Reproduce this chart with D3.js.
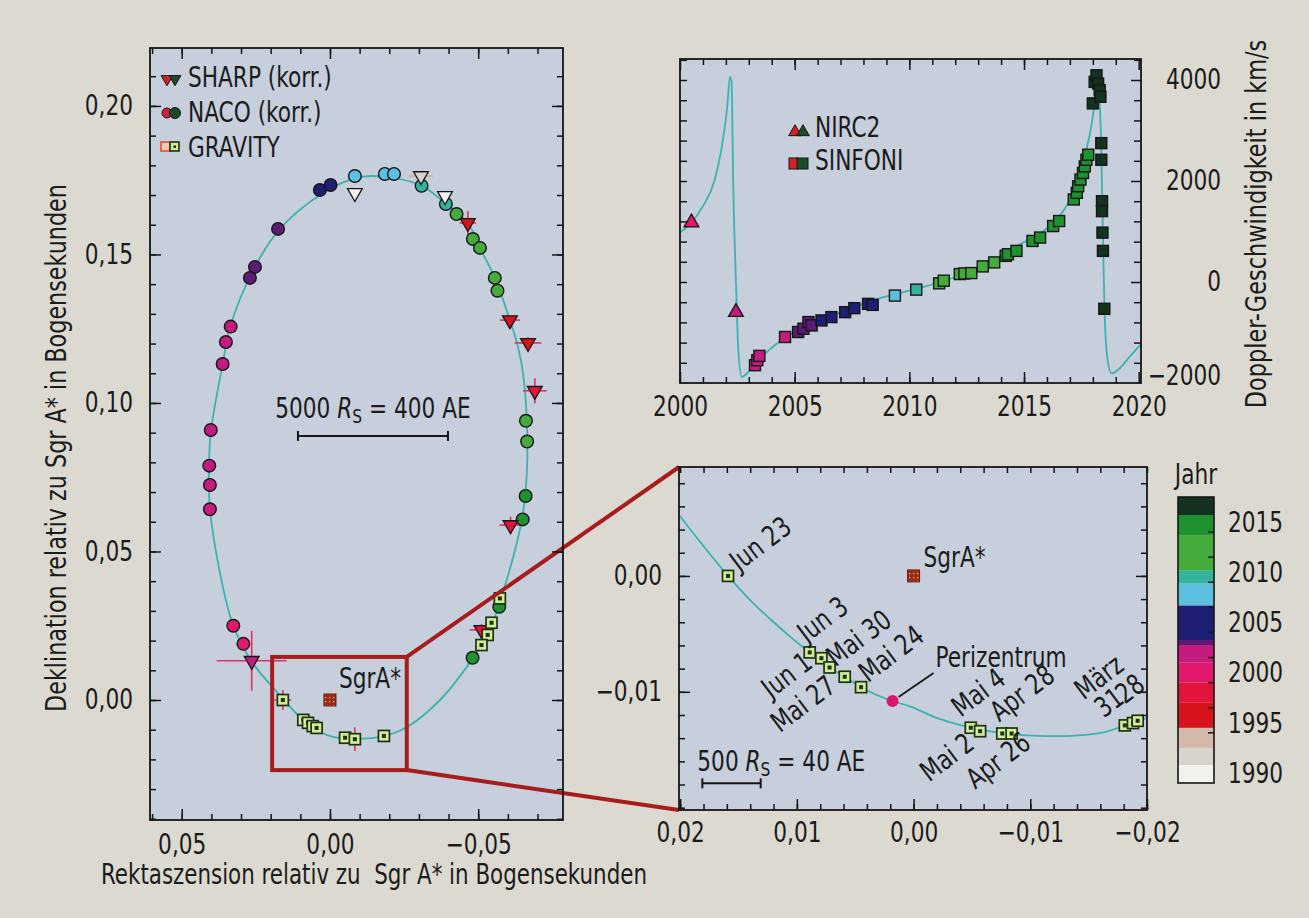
<!DOCTYPE html>
<html>
<head>
<meta charset="utf-8">
<title>S2 um Sgr A*</title>
<script src="https://cdn.jsdelivr.net/npm/d3@7/dist/d3.min.js"></script>
<style>
  body { margin: 0; background: #dcdad0; }
  svg { display: block; }
  text { font-family: 'Liberation Sans Narrow', 'DejaVu Sans Condensed', 'Arial Narrow', sans-serif; fill: #1b1b1b; }
</style>
</head>
<body>
<svg id="chart" width="1309" height="918"></svg>
<script>
// ---------- data ----------
// orbit of S2 on the sky (arcsec), left panel
const orbitRa  = [-0.0145, -0.0303, -0.0388, -0.0465, -0.0506, -0.0556, -0.0607, -0.0634, -0.0651, -0.0664, -0.0664, -0.0647, -0.0583, -0.0539, -0.0482, -0.0371, -0.0260, -0.0185, -0.0078, 0.0010, 0.0091, 0.0185, 0.0263, 0.0327, 0.0371, 0.0405, 0.0408, 0.0401, 0.0361, 0.0337, 0.0253, 0.0169, 0.0034, -0.0067];
const orbitDec = [0.1764, 0.1734, 0.1673, 0.1606, 0.1522, 0.1421, 0.1279, 0.1189, 0.1101, 0.0943, 0.0764, 0.0606, 0.0360, 0.0236, 0.0141, 0.0000, -0.0091, -0.0121, -0.0131, -0.0118, -0.0067, 0.0034, 0.0128, 0.0253, 0.0428, 0.0646, 0.0791, 0.0909, 0.1135, 0.1256, 0.1458, 0.1586, 0.1700, 0.1751];

// orbit close to the pericentre, zoom panel
const zoomOrbitRa  = [0.0202, 0.0181, 0.0159, 0.0139, 0.0122, 0.0105, 0.0089, 0.0072, 0.0059, 0.0045, 0.0031, 0.0018, 0.0002, -0.0021, -0.0049, -0.0078, -0.0106, -0.0135, -0.0163, -0.0181, -0.0199];
const zoomOrbitDec = [0.0054, 0.0027, 0.0000, -0.0022, -0.0038, -0.0053, -0.0066, -0.0079, -0.0087, -0.0096, -0.0103, -0.0108, -0.0113, -0.0123, -0.0131, -0.0136, -0.0138, -0.0138, -0.0135, -0.0129, -0.0123];

// NACO (korr.)
const nacoRa   = [0.0034, -0.0002, -0.0084, -0.0185, -0.0216, -0.0309, -0.0391, -0.0427, -0.0482, -0.0506, -0.0556, -0.0565, -0.0661, -0.0665, -0.0660, -0.0650, -0.0571, -0.0481, 0.0175, 0.0253, 0.0270, 0.0335, 0.0351, 0.0362, 0.0402, 0.0407, 0.0405, 0.0405, 0.0326, 0.0292];
const nacoDec  = [0.1717, 0.1734, 0.1764, 0.1771, 0.1771, 0.1731, 0.1670, 0.1636, 0.1552, 0.1522, 0.1421, 0.1378, 0.0940, 0.0870, 0.0687, 0.0608, 0.0314, 0.0142, 0.1586, 0.1458, 0.1421, 0.1257, 0.1205, 0.1131, 0.0909, 0.0789, 0.0724, 0.0642, 0.0250, 0.0189];
const nacoYear = [2006.2, 2006.6, 2009.2, 2009.5, 2009.7, 2010.3, 2010.5, 2010.9, 2011.2, 2011.5, 2012.0, 2012.3, 2013.2, 2013.5, 2014.3, 2014.6, 2016.5, 2017.2, 2005.0, 2005.2, 2005.4, 2004.0, 2003.8, 2003.5, 2003.2, 2003.0, 2002.9, 2002.8, 2000.5, 2000.2];

// SHARP (korr.)
const sharpRa     = [-0.0084, -0.0307, -0.0388, -0.0465, -0.0607, -0.0668, -0.0691, -0.0609, -0.0511, 0.0264];
const sharpDec    = [0.1707, 0.1764, 0.1697, 0.1606, 0.1279, 0.1202, 0.1041, 0.0589, 0.0236, 0.0132];
const sharpYear   = [1990.5, 1992.0, 1990.5, 1995.0, 1995.5, 1996.0, 1997.5, 1998.0, 1998.5, 2002.0];
const sharpErrRa  = [0, 0.0040, 0, 0.0028, 0.0034, 0.0045, 0.0040, 0.0037, 0.0040, 0.0118];
const sharpErrDec = [0, 0, 0, 0.0040, 0, 0.0020, 0.0042, 0.0028, 0.0020, 0.0101];

// GRAVITY, left panel
const gravRa     = [-0.0573, -0.0545, -0.0532, -0.0511, 0.0159, 0.0090, 0.0074, 0.0058, 0.0045, -0.0051, -0.0084, -0.0182];
const gravDec    = [0.0342, 0.0260, 0.0219, 0.0185, 0.0000, -0.0067, -0.0077, -0.0088, -0.0094, -0.0127, -0.0132, -0.0121];
const gravErrRa  = [0, 0, 0, 0, 0.0028, 0, 0, 0, 0, 0, 0, 0];
const gravErrDec = [0, 0, 0, 0, 0.0034, 0, 0, 0, 0, 0, 0.0040, 0];

// GRAVITY 2018, zoom panel
const zoomDates = ["Jun 23", "Jun 3", "Jun 1", "Mai 30", "Mai 27", "Mai 24", "Mai 4", "Mai 2", "Apr 28", "Apr 26", "31", "", "28"];
const zoomSide  = ["above", "above", "below", "above", "below", "above", "above", "below", "above", "below", "above", "above", "above"];
const zoomRa    = [0.0159, 0.0089, 0.0079, 0.0072, 0.0059, 0.0045, -0.0049, -0.0057, -0.0076, -0.0084, -0.0181, -0.0188, -0.0192];
const zoomDec   = [0.0000, -0.0066, -0.0071, -0.0079, -0.0087, -0.0096, -0.0131, -0.0134, -0.0136, -0.0136, -0.0129, -0.0127, -0.0125];
const pericentreRa = 0.0018, pericentreDec = -0.0108;

// Doppler velocity: model curve (year, km/s)
const rvYear = [2000.0, 2000.5, 2001.0, 2001.5, 2001.8, 2002.06, 2002.18, 2002.25, 2002.32, 2002.44, 2002.54, 2002.69, 2003.05, 2003.49, 2004.5, 2005.96, 2007.4, 2008.86, 2010.3, 2011.76, 2013.2, 2014.7, 2016.1, 2017.0, 2017.57, 2018.0, 2018.16, 2018.23, 2018.30, 2018.37, 2018.44, 2018.51, 2018.62, 2018.81, 2019.17, 2019.6, 2020.09];
const rvVel  = [980, 1175, 1502, 2000, 2618, 3470, 4061, 3963, 1962, -6, -1319, -1876, -1746, -1516, -1122, -793, -531, -301, -138, 59, 321, 715, 1108, 1634, 2356, 3274, 3864, 4150, 3600, 2600, 900, -550, -1450, -1811, -1713, -1482, -1240];

// NIRC2 and SINFONI measurements
const nircYear = [2000.5, 2002.44];
const nircVel  = [1175, -597];
const sinfoniYear = [2003.27, 2003.37, 2003.46, 2004.58, 2005.15, 2005.38, 2005.60, 2005.74, 2006.17, 2006.60, 2007.20, 2007.60, 2008.20, 2008.40, 2009.37, 2010.30, 2011.30, 2011.50, 2012.20, 2012.40, 2012.70, 2013.20, 2013.70, 2014.20, 2014.30, 2014.67, 2015.37, 2015.70, 2016.27, 2016.53, 2017.17, 2017.30, 2017.36, 2017.46, 2017.57, 2017.65, 2017.72, 2017.80, 2018.00, 2018.08, 2018.16, 2018.23, 2018.30, 2018.33, 2018.37, 2018.37, 2018.40, 2018.40, 2018.42, 2018.44, 2018.50];
const sinfoniVel  = [-1647, -1549, -1463, -1089, -990, -925, -793, -860, -761, -695, -597, -518, -433, -453, -269, -151, -26, 26, 157, 170, 177, 309, 388, 518, 550, 616, 813, 880, 1108, 1207, 1634, 1766, 1896, 2028, 2159, 2289, 2421, 2520, 3537, 3963, 4094, 3931, 3799, 3668, 2750, 2421, 1600, 1404, 978, 616, -531];

// year colours
const yearBreaks  = [1990.8, 1992.5, 1994.5, 1997.0, 1999.0, 2001.0, 2004.7, 2005.9, 2009.0, 2010.0, 2010.8, 2014.0, 2017.9];
const yearColours = ["#f3f1ec", "#d9d3ce", "#d4b8aa", "#d7141d", "#e2163c", "#e0196c", "#c41c7e", "#5c1c74", "#1d1e74", "#5cbfdd", "#33b39c", "#45ac3c", "#1f9230", "#13321f"];
const colorbarEdges = [1989, 1990.8, 1992.5, 1994.5, 1997.0, 1999.0, 2001.0, 2002.75, 2003.25, 2006.7, 2008.9, 2010.2, 2013.7, 2015.7, 2017.5];
const colorbarLabels = [1990, 1995, 2000, 2005, 2010, 2015];
const colorbarTicks = [1994, 1996.5, 1999, 2001.5, 2004, 2006.5, 2009, 2011.5, 2014];

// tick labels
const mainRaLabels  = [0.05, 0.00, -0.05];
const mainDecLabels = [0.00, 0.05, 0.10, 0.15, 0.20];
const velYearLabels = [2000, 2005, 2010, 2015, 2020];
const velLabels     = [4000, 2000, 0, -2000];
const zoomRaLabels  = [0.02, 0.01, 0.00, -0.01, -0.02];
const zoomDecLabels = [0.00, -0.01];

// scale bars and zoom box (arcsec)
const mainBarRa = [0.0108, -0.0398], mainBarDec = 0.0889;
const zoomBarRa = [0.0181, 0.0131], zoomBarDec = -0.0179;
const zoomBoxRa = [0.0195, -0.0259], zoomBoxDec = [-0.0236, 0.0145];

// ---------- drawing ----------
const svg = d3.select("#chart");
const defs = svg.append("defs");
const ink = "#161616";
const panelFill = "#c6cfdb";
const orbitStroke = "#3db3ad";
const boxRed = "#a71c1c";
const errPink = "#e0306a";
const squeeze = 0.86;   // the print uses a condensed face

// where the date labels sit next to their square (px)
const dateLabelShift = {
  "Jun 23": [11, -4], "Jun 3": [-3, -9], "Jun 1": [-7, 8], "Mai 30": [6, 0], "Mai 27": [-7, 13],
  "Mai 24": [7, -4], "Mai 4": [-10, -10], "Mai 2": [-4, 16], "Apr 28": [-3, -11], "Apr 26": [21, 13],
  "31": [-21, -7], "28": [-13, -16]
};

const colorOf = d3.scaleThreshold().domain(yearBreaks).range(yearColours);

function commaFmt(d) {
  const s = d3.format(".2f")(Math.abs(d) < 1e-9 ? 0 : d);
  return s.replace(".", ",").replace("-", "–");
}

const xMain = d3.scaleLinear().domain([0.0607, -0.0786]).range([150, 563]);
const yMain = d3.scaleLinear().domain([-0.0404, 0.2195]).range([820, 48]);
const xVel = d3.scaleLinear().domain([2000, 2020.1]).range([680, 1141]);
const yVel = d3.scaleLinear().domain([-2000, 4416]).range([383, 59]);
const xZoom = d3.scaleLinear().domain([0.0201, -0.0200]).range([679, 1147]);
const yZoom = d3.scaleLinear().domain([-0.0202, 0.0094]).range([810, 467]);
const yBar = d3.scaleLinear().domain([1989, 2017.5]).range([783, 497]);

function box(x, y) {
  const [xa, xb] = x.range(), [ya, yb] = y.range();
  return { x: xa, y: yb, w: xb - xa, h: ya - yb };
}

function panel(id, x, y) {
  const b = box(x, y);
  svg.append("rect").attr("x", b.x).attr("y", b.y).attr("width", b.w).attr("height", b.h).attr("fill", panelFill);
  defs.append("clipPath").attr("id", id).append("rect")
    .attr("x", b.x).attr("y", b.y).attr("width", b.w).attr("height", b.h);
}

function border(x, y) {
  const b = box(x, y);
  svg.append("rect").attr("x", b.x).attr("y", b.y).attr("width", b.w).attr("height", b.h)
    .attr("fill", "none").attr("stroke", ink).attr("stroke-width", 1.8);
}

function tickSet(axisFn, scale, at, values, len, fmt, pad) {
  const ax = axisFn(scale).tickValues(values).tickSize(-len).tickSizeOuter(0)
    .tickPadding(pad || 0).tickFormat(fmt || (() => ""));
  const g = svg.append("g").attr("transform", at).call(ax);
  g.attr("font-size", 28);
  g.select(".domain").remove();
  g.selectAll("line").attr("stroke", ink).attr("stroke-width", 1.5);
  return g;
}

const onStep = (v, step) => Math.abs(v / step - Math.round(v / step)) < 1e-6;

panel("clipMain", xMain, yMain);
panel("clipVel", xVel, yVel);
panel("clipZoom", xZoom, yZoom);

// --- left panel: orbit
const gMain = svg.append("g").attr("clip-path", "url(#clipMain)");
gMain.append("path")
  .attr("d", d3.line().curve(d3.curveCatmullRomClosed.alpha(0.5))(orbitRa.map((r, i) => [xMain(r), yMain(orbitDec[i])])))
  .attr("fill", "none").attr("stroke", orbitStroke).attr("stroke-width", 1.8);

// scale bar
function scaleBar(g, x, y, ra, dec) {
  const x0 = x(ra[0]), x1 = x(ra[1]), yy = y(dec);
  g.append("line").attr("x1", x0).attr("x2", x1).attr("y1", yy).attr("y2", yy).attr("stroke", ink).attr("stroke-width", 2);
  [x0, x1].forEach(xx => g.append("line").attr("x1", xx).attr("x2", xx).attr("y1", yy - 5).attr("y2", yy + 5).attr("stroke", ink).attr("stroke-width", 2));
}
// "5000 R_S = 400 AE" with italic R and subscript S, squeezed as a whole
function rsText(xx, yy, anchor, pre, post) {
  const t = svg.append("g").attr("transform", `translate(${xx},${yy}) scale(${squeeze},1)`)
    .append("text").attr("class", "keep").attr("font-size", 28).attr("text-anchor", anchor);
  t.append("tspan").text(pre);
  t.append("tspan").attr("font-style", "italic").text("R");
  t.append("tspan").attr("font-size", 20).attr("dy", 5).text("S");
  t.append("tspan").attr("dy", -5).text(" = " + post);
}
scaleBar(gMain, xMain, yMain, mainBarRa, mainBarDec);
rsText((xMain(mainBarRa[0]) + xMain(mainBarRa[1])) / 2, yMain(mainBarDec) - 18, "middle", "5000 ", "400 AE");

// zoom box and connectors
svg.append("rect")
  .attr("x", xMain(zoomBoxRa[0])).attr("y", yMain(zoomBoxDec[1]))
  .attr("width", xMain(zoomBoxRa[1]) - xMain(zoomBoxRa[0])).attr("height", yMain(zoomBoxDec[0]) - yMain(zoomBoxDec[1]))
  .attr("fill", "none").attr("stroke", boxRed).attr("stroke-width", 4);
const zb = box(xZoom, yZoom);
svg.append("line").attr("x1", xMain(zoomBoxRa[1])).attr("y1", yMain(zoomBoxDec[1])).attr("x2", zb.x).attr("y2", zb.y)
  .attr("stroke", boxRed).attr("stroke-width", 4);
svg.append("line").attr("x1", xMain(zoomBoxRa[1])).attr("y1", yMain(zoomBoxDec[0])).attr("x2", zb.x).attr("y2", zb.y + zb.h)
  .attr("stroke", boxRed).attr("stroke-width", 4);

// SgrA* marker
const pat = defs.append("pattern").attr("id", "sgrDots").attr("width", 4).attr("height", 4).attr("patternUnits", "userSpaceOnUse");
pat.append("rect").attr("width", 4).attr("height", 4).attr("fill", "#9b2c16");
pat.append("rect").attr("x", 1).attr("y", 1).attr("width", 1.3).attr("height", 1.3).attr("fill", "#e6a07c");
function sgr(g, x, y, size) {
  g.append("rect").attr("x", x(0) - size / 2).attr("y", y(0) - size / 2).attr("width", size).attr("height", size)
    .attr("fill", "url(#sgrDots)").attr("stroke", "#6e1c0c").attr("stroke-width", 1);
}
sgr(gMain, xMain, yMain, 12);
svg.append("text").attr("x", xMain(0) + 9).attr("y", yMain(0) - 12).attr("font-size", 28).text("SgrA*");

// error bars
function errBars(g, ra, dec, eRa, eDec, color) {
  ra.forEach((r, i) => {
    const cx = xMain(r), cy = yMain(dec[i]);
    if (eRa[i] > 0) g.append("line").attr("x1", xMain(r + eRa[i])).attr("x2", xMain(r - eRa[i])).attr("y1", cy).attr("y2", cy)
      .attr("stroke", color(i)).attr("stroke-width", 1.6);
    if (eDec[i] > 0) g.append("line").attr("x1", cx).attr("x2", cx).attr("y1", yMain(dec[i] - eDec[i])).attr("y2", yMain(dec[i] + eDec[i]))
      .attr("stroke", color(i)).attr("stroke-width", 1.6);
  });
}
errBars(gMain, sharpRa, sharpDec, sharpErrRa, sharpErrDec, i => sharpYear[i] < 1994 ? "#e8a884" : errPink);
errBars(gMain, gravRa, gravDec, gravErrRa, gravErrDec, () => errPink);

// NACO circles
gMain.selectAll("circle.naco").data(nacoRa).join("circle").attr("class", "naco")
  .attr("cx", d => xMain(d)).attr("cy", (d, i) => yMain(nacoDec[i])).attr("r", 6.3)
  .attr("fill", (d, i) => colorOf(nacoYear[i])).attr("stroke", ink).attr("stroke-width", 1.4);

// SHARP triangles (pointing down)
const triDown = d3.symbol().type(d3.symbolTriangle).size(95);
gMain.selectAll("path.sharp").data(sharpRa).join("path").attr("class", "sharp")
  .attr("d", triDown)
  .attr("transform", (d, i) => `translate(${xMain(d)},${yMain(sharpDec[i])}) rotate(180)`)
  .attr("fill", (d, i) => colorOf(sharpYear[i])).attr("stroke", ink).attr("stroke-width", 1.3);

// GRAVITY squares
function gravSquares(g, cls, xs, ys) {
  const sq = g.selectAll("g." + cls).data(xs).join("g").attr("class", cls)
    .attr("transform", (d, i) => `translate(${d},${ys[i]})`);
  sq.append("rect").attr("x", -5.5).attr("y", -5.5).attr("width", 11).attr("height", 11)
    .attr("fill", "#d3eb9a").attr("stroke", "#1c3312").attr("stroke-width", 1.7);
  sq.append("rect").attr("x", -2).attr("y", -2).attr("width", 4).attr("height", 4).attr("fill", "#1c3312");
}
gravSquares(gMain, "grav", gravRa.map(xMain), gravDec.map(yMain));

// legend left panel
const lg = svg.append("g");
lg.append("path").attr("d", d3.symbol().type(d3.symbolTriangle).size(60)).attr("transform", "translate(167,79) rotate(180)").attr("fill", "#d42028").attr("stroke", ink).attr("stroke-width", 1);
lg.append("path").attr("d", d3.symbol().type(d3.symbolTriangle).size(60)).attr("transform", "translate(175,79) rotate(180)").attr("fill", "#1b4a2a").attr("stroke", ink).attr("stroke-width", 1);
lg.append("circle").attr("cx", 167).attr("cy", 113).attr("r", 5).attr("fill", "#d42040").attr("stroke", ink);
lg.append("circle").attr("cx", 175).attr("cy", 113).attr("r", 5.5).attr("fill", "#1b4a2a").attr("stroke", ink);
lg.append("rect").attr("x", 161).attr("y", 142).attr("width", 9).attr("height", 9).attr("fill", "#f0c8b0").attr("stroke", "#e0503a").attr("stroke-width", 1.6);
lg.append("rect").attr("x", 170).attr("y", 142).attr("width", 9).attr("height", 9).attr("fill", "#d3eb9a").attr("stroke", "#1c3312").attr("stroke-width", 1.6);
lg.append("rect").attr("x", 173.5).attr("y", 145.5).attr("width", 2.5).attr("height", 2.5).attr("fill", "#1c3312");
["SHARP (korr.)", "NACO (korr.)", "GRAVITY"].forEach((t, i) =>
  lg.append("text").attr("x", 188).attr("y", [77, 112, 147][i]).attr("dy", "0.35em").attr("font-size", 28).text(t));

// --- top right panel: Doppler velocity
const gVel = svg.append("g").attr("clip-path", "url(#clipVel)");
gVel.append("path")
  .attr("d", d3.line().curve(d3.curveMonotoneX)(rvYear.map((t, i) => [xVel(t), yVel(rvVel[i])])))
  .attr("fill", "none").attr("stroke", orbitStroke).attr("stroke-width", 1.8);
const triUp = d3.symbol().type(d3.symbolTriangle).size(95);
gVel.selectAll("path.nirc").data(nircYear).join("path").attr("class", "nirc")
  .attr("d", triUp).attr("transform", (d, i) => `translate(${xVel(d)},${yVel(nircVel[i])})`)
  .attr("fill", (d, i) => colorOf(d)).attr("stroke", ink).attr("stroke-width", 1.3);
gVel.selectAll("rect.sinf").data(sinfoniYear).join("rect").attr("class", "sinf")
  .attr("x", d => xVel(d) - 5.5).attr("y", (d, i) => yVel(sinfoniVel[i]) - 5.5).attr("width", 11).attr("height", 11)
  .attr("fill", d => colorOf(d)).attr("stroke", ink).attr("stroke-width", 1.4);

// legend top right
const lv = svg.append("g");
lv.append("path").attr("d", d3.symbol().type(d3.symbolTriangle).size(70)).attr("transform", "translate(795,132)").attr("fill", "#d42028").attr("stroke", ink);
lv.append("path").attr("d", d3.symbol().type(d3.symbolTriangle).size(70)).attr("transform", "translate(803,132)").attr("fill", "#1b4a2a").attr("stroke", ink);
lv.append("rect").attr("x", 789).attr("y", 158).attr("width", 9).attr("height", 11).attr("fill", "#d42028").attr("stroke", ink);
lv.append("rect").attr("x", 797).attr("y", 158).attr("width", 11).attr("height", 11).attr("fill", "#1b4a2a").attr("stroke", ink);
["NIRC2", "SINFONI"].forEach((t, i) =>
  lv.append("text").attr("x", 815).attr("y", [127, 160][i]).attr("dy", "0.35em").attr("font-size", 28).text(t));

// --- bottom right panel: pericentre zoom
const gZoom = svg.append("g").attr("clip-path", "url(#clipZoom)");
gZoom.append("path")
  .attr("d", d3.line().curve(d3.curveCatmullRom.alpha(0.5))(zoomOrbitRa.map((r, i) => [xZoom(r), yZoom(zoomOrbitDec[i])])))
  .attr("fill", "none").attr("stroke", orbitStroke).attr("stroke-width", 1.8);
sgr(gZoom, xZoom, yZoom, 12);
svg.append("text").attr("x", xZoom(0) + 10).attr("y", yZoom(0) - 9).attr("font-size", 28).text("SgrA*");
scaleBar(gZoom, xZoom, yZoom, zoomBarRa, zoomBarDec);
rsText(xZoom(zoomBarRa[0]) - 5, yZoom(zoomBarDec) - 12, "start", "500 ", "40 AE");

gravSquares(gZoom, "gravz", zoomRa.map(xZoom), zoomDec.map(yZoom));
zoomDates.forEach((t, i) => {
  if (!t) return;
  const cx = xZoom(zoomRa[i]), cy = yZoom(zoomDec[i]);
  const [dx, dy] = dateLabelShift[t];
  svg.append("text")
    .attr("transform", `translate(${cx + dx},${cy + dy}) rotate(-37)`)
    .attr("text-anchor", zoomSide[i] === "above" ? "start" : "end").attr("font-size", 28).text(t);
});
// "März" above the two March dates
svg.append("text")
  .attr("transform", `translate(${xZoom(zoomRa[10]) - 41},${yZoom(zoomDec[10]) - 25}) rotate(-37)`)
  .attr("font-size", 28).text("März");

// pericentre
const px = xZoom(pericentreRa), py = yZoom(pericentreDec);
svg.append("line").attr("x1", px + 6).attr("y1", py - 4).attr("x2", px + 41).attr("y2", py - 28).attr("stroke", ink).attr("stroke-width", 1.8);
svg.append("circle").attr("cx", px).attr("cy", py).attr("r", 6).attr("fill", "#d8176c");
svg.append("text").attr("x", px + 43).attr("y", py - 34).attr("font-size", 28).text("Perizentrum");

// --- frames and ticks
// left panel
const raMinor = d3.range(-7, 7).map(i => i / 100);
const decMinor = d3.range(-4, 22).map(i => i / 100);
tickSet(d3.axisBottom, xMain, "translate(0,820)", raMinor, 6);
tickSet(d3.axisTop, xMain, "translate(0,48)", raMinor, 6);
tickSet(d3.axisBottom, xMain, "translate(0,820)", mainRaLabels, 11, commaFmt, 14);
tickSet(d3.axisTop, xMain, "translate(0,48)", mainRaLabels, 11);
tickSet(d3.axisLeft, yMain, "translate(150,0)", decMinor, 6);
tickSet(d3.axisRight, yMain, "translate(563,0)", decMinor, 6);
tickSet(d3.axisLeft, yMain, "translate(150,0)", mainDecLabels, 11, commaFmt, 17);
tickSet(d3.axisRight, yMain, "translate(563,0)", mainDecLabels, 11);
border(xMain, yMain);

// velocity panel
const yrMinor = d3.range(2001, 2020);
const velMinor = d3.range(-1600, 4401, 400);
tickSet(d3.axisBottom, xVel, "translate(0,383)", yrMinor, 6);
tickSet(d3.axisTop, xVel, "translate(0,59)", yrMinor, 6);
tickSet(d3.axisBottom, xVel, "translate(0,383)", velYearLabels, 11, d => d, 13);
tickSet(d3.axisTop, xVel, "translate(0,59)", velYearLabels, 11);
tickSet(d3.axisLeft, yVel, "translate(680,0)", velMinor, 7);
tickSet(d3.axisRight, yVel, "translate(1141,0)", velMinor.filter(v => !onStep(v, 2000)), 7);
const gvl = tickSet(d3.axisRight, yVel, "translate(1141,0)", velLabels, 10, d => d3.format("d")(d).replace("-", "–"), 0);
gvl.selectAll("text").attr("text-anchor", "end").attr("x", 80);
gvl.selectAll(".tick").filter(d => d === -2000).select("text").attr("dy", "0.05em");
gvl.selectAll(".tick").filter(d => d === -2000).select("line").remove();
border(xVel, yVel);

// zoom panel
const zMinor = d3.range(-10, 11).map(i => i * 0.002);
const zDecMinor = d3.range(-10, 5).map(i => i * 0.002);
tickSet(d3.axisBottom, xZoom, "translate(0,810)", zMinor, 6);
tickSet(d3.axisTop, xZoom, "translate(0,467)", zMinor, 6);
tickSet(d3.axisBottom, xZoom, "translate(0,810)", zoomRaLabels, 11, commaFmt, 12);
tickSet(d3.axisLeft, yZoom, "translate(679,0)", zDecMinor, 6);
tickSet(d3.axisRight, yZoom, "translate(1147,0)", zDecMinor, 6);
tickSet(d3.axisLeft, yZoom, "translate(679,0)", zoomDecLabels, 11, commaFmt, 17);
tickSet(d3.axisRight, yZoom, "translate(1147,0)", zoomDecLabels, 11);
border(xZoom, yZoom);

// --- colour bar
const cb = svg.append("g");
cb.selectAll("rect.band").data(d3.pairs(colorbarEdges)).join("rect").attr("class", "band")
  .attr("x", 1178).attr("width", 36)
  .attr("y", d => yBar(d[1])).attr("height", d => yBar(d[0]) - yBar(d[1]))
  .attr("fill", (d, i) => yearColours[i]);
cb.selectAll("line.cbt").data(colorbarTicks).join("line").attr("class", "cbt")
  .attr("x1", 1208).attr("x2", 1214).attr("y1", d => yBar(d)).attr("y2", d => yBar(d)).attr("stroke", ink).attr("stroke-width", 1.5);
cb.append("rect").attr("x", 1178).attr("y", yBar(2017.5)).attr("width", 36).attr("height", yBar(1989) - yBar(2017.5))
  .attr("fill", "none").attr("stroke", ink).attr("stroke-width", 1.6);
cb.selectAll("text.cbl").data(colorbarLabels).join("text").attr("class", "cbl")
  .attr("x", 1228).attr("y", d => yBar(d)).attr("dy", "0.35em").attr("font-size", 28).text(d => d);
cb.append("text").attr("x", 1196).attr("y", 474).attr("dy", "0.35em").attr("text-anchor", "middle").attr("font-size", 28).text("Jahr");

// --- axis titles (squeezed by transform so their boxes stay honest)
svg.append("text").attr("class", "keep").attr("transform", "translate(374,884) scale(0.85,1)")
  .attr("text-anchor", "middle").attr("font-size", 28)
  .style("white-space", "pre").text("Rektaszension relativ zu  Sgr A* in Bogensekunden");
svg.append("text").attr("class", "keep").attr("transform", "translate(66,448) rotate(-90) scale(0.885,1)")
  .attr("text-anchor", "middle").attr("font-size", 28)
  .text("Deklination relativ zu Sgr A* in Bogensekunden");
svg.append("text").attr("class", "keep").attr("transform", "translate(1266,224) rotate(-90) scale(0.89,1)")
  .attr("text-anchor", "middle").attr("font-size", 28)
  .text("Doppler-Geschwindigkeit in km/s");

// condense the remaining labels to the narrow width of the printed face
svg.selectAll("text:not(.keep)").attr("lengthAdjust", "spacingAndGlyphs").each(function () {
  const len = this.getComputedTextLength();
  if (len > 0) this.setAttribute("textLength", len * squeeze);
});
</script>
</body>
</html>
